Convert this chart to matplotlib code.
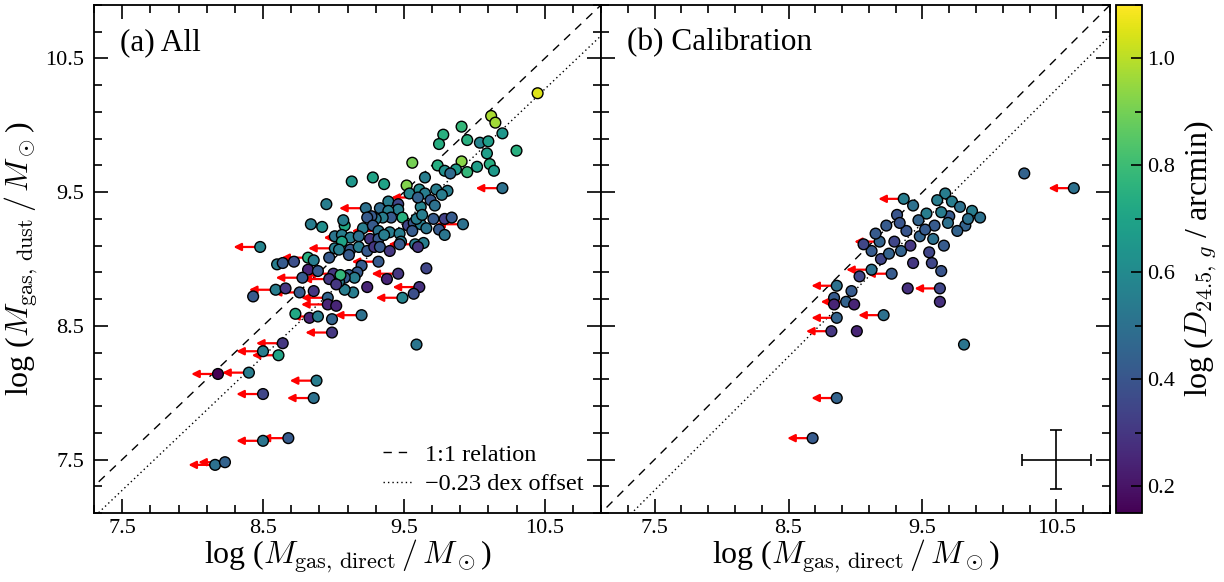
import numpy as np
import matplotlib
matplotlib.use("Agg")
import matplotlib.pyplot as plt
from matplotlib.ticker import FixedLocator, FormatStrFormatter
from matplotlib.colors import Normalize
from matplotlib.cm import ScalarMappable
from matplotlib.lines import Line2D

plt.rcParams['font.family'] = ['Liberation Serif', 'DejaVu Serif']
plt.rcParams['mathtext.fontset'] = 'cm'

# ---------------- Panel (a): all galaxies ----------------
a_x = [10.45, 10.12, 10.15, 10.20, 9.91, 9.78, 9.75, 9.95, 10.04, 10.10,
       10.30, 10.09, 9.56, 9.91, 9.74, 10.11, 9.79, 9.87, 9.95, 10.02,
       10.14, 9.83, 9.65, 9.13, 9.28, 9.36, 9.52, 10.20, 9.54, 9.61,
       9.65, 9.73, 9.81, 9.77, 9.69, 9.72, 9.62, 8.95, 8.84, 8.92,
       9.08, 9.07, 9.23, 9.33, 9.39, 9.46, 9.46, 9.39, 9.49, 9.41,
       9.35, 9.30, 9.27, 9.24, 9.21, 9.28, 9.32, 9.40, 9.47, 9.53,
       9.57, 9.62, 9.66, 9.56, 9.59, 9.63, 9.71, 9.75, 9.79, 9.79,
       9.84, 9.92, 9.01, 9.06, 9.12, 9.18, 9.26, 9.32, 9.36, 9.48,
       9.47, 9.58, 9.64, 9.60, 8.48, 9.06, 9.01, 9.04, 9.12, 9.18,
       9.24, 9.29, 9.33, 9.40, 9.11, 8.97, 8.82, 8.86, 8.60, 8.64,
       8.72, 8.82, 8.89, 9.20, 9.32, 8.43, 8.59, 8.66, 8.76, 8.78,
       8.73, 8.83, 8.64, 8.50, 8.61, 8.18, 8.40, 8.50, 8.88, 8.86,
       8.50, 8.68, 8.16, 8.23, 9.49, 9.46, 9.38, 9.61, 9.57, 9.66,
       9.59, 9.20, 8.99, 8.89, 8.99, 8.96, 8.96, 9.02, 9.24, 9.14,
       9.08, 8.86, 9.17, 9.11, 9.15, 9.08, 9.04, 9.00, 9.05, 8.97,
       9.02, 9.60]
a_y = [10.24, 10.07, 10.02, 9.94, 9.99, 9.93, 9.86, 9.89, 9.87, 9.88,
       9.81, 9.79, 9.72, 9.73, 9.70, 9.71, 9.66, 9.67, 9.65, 9.69,
       9.66, 9.64, 9.61, 9.58, 9.61, 9.56, 9.55, 9.53, 9.49, 9.52,
       9.49, 9.52, 9.51, 9.48, 9.44, 9.40, 9.39, 9.41, 9.26, 9.24,
       9.25, 9.29, 9.38, 9.38, 9.43, 9.41, 9.37, 9.36, 9.31, 9.31,
       9.31, 9.30, 9.32, 9.31, 9.23, 9.25, 9.21, 9.20, 9.19, 9.25,
       9.27, 9.26, 9.23, 9.21, 9.30, 9.33, 9.30, 9.22, 9.18, 9.30,
       9.31, 9.26, 9.17, 9.18, 9.16, 9.17, 9.15, 9.15, 9.18, 9.13,
       9.11, 9.11, 9.12, 9.09, 9.09, 9.13, 9.08, 9.07, 9.07, 9.09,
       9.06, 9.09, 9.09, 9.06, 9.03, 9.01, 9.01, 8.99, 8.96, 8.97,
       8.98, 8.92, 8.91, 8.95, 8.98, 8.72, 8.77, 8.78, 8.75, 8.86,
       8.59, 8.56, 8.37, 8.31, 8.28, 8.14, 8.15, 7.99, 8.09, 7.96,
       7.64, 7.66, 7.46, 7.48, 8.71, 8.89, 8.85, 8.79, 8.74, 8.93,
       8.36, 8.58, 8.55, 8.57, 8.45, 8.71, 8.66, 8.65, 8.79, 8.75,
       8.77, 8.76, 8.90, 8.88, 8.86, 8.86, 8.83, 8.89, 8.88, 8.85,
       8.81, 9.46]
a_c = [1.05, 0.98, 0.97, 0.65, 0.78, 0.75, 0.74, 0.75, 0.58, 0.68,
       0.75, 0.68, 0.90, 0.93, 0.74, 0.74, 0.62, 0.66, 0.78, 0.68,
       0.66, 0.48, 0.55, 0.65, 0.70, 0.70, 0.92, 0.50, 0.58, 0.60,
       0.55, 0.55, 0.55, 0.55, 0.42, 0.50, 0.58, 0.55, 0.55, 0.62,
       0.72, 0.55, 0.50, 0.48, 0.55, 0.35, 0.55, 0.55, 0.75, 0.42,
       0.55, 0.52, 0.42, 0.42, 0.55, 0.42, 0.52, 0.55, 0.55, 0.35,
       0.42, 0.55, 0.52, 0.42, 0.55, 0.55, 0.42, 0.42, 0.52, 0.33,
       0.42, 0.50, 0.52, 0.55, 0.55, 0.50, 0.30, 0.42, 0.55, 0.55,
       0.42, 0.55, 0.55, 0.30, 0.58, 0.70, 0.55, 0.55, 0.42, 0.55,
       0.42, 0.30, 0.42, 0.30, 0.42, 0.42, 0.75, 0.55, 0.55, 0.42,
       0.38, 0.25, 0.42, 0.42, 0.42, 0.42, 0.55, 0.30, 0.42, 0.42,
       0.72, 0.25, 0.30, 0.55, 0.70, 0.15, 0.55, 0.35, 0.55, 0.50,
       0.52, 0.42, 0.50, 0.45, 0.58, 0.30, 0.25, 0.28, 0.38, 0.35,
       0.52, 0.50, 0.45, 0.55, 0.30, 0.45, 0.25, 0.25, 0.25, 0.55,
       0.55, 0.30, 0.42, 0.42, 0.55, 0.42, 0.55, 0.30, 0.78, 0.30,
       0.30, 0.45]
a_ul = [0, 0, 0, 0, 0, 0, 0, 0, 0, 0,
        0, 0, 0, 0, 0, 0, 0, 0, 0, 0,
        0, 0, 0, 0, 0, 0, 0, 1, 0, 0,
        0, 0, 0, 0, 0, 0, 0, 0, 0, 0,
        0, 0, 1, 0, 0, 0, 0, 0, 0, 0,
        0, 0, 0, 0, 0, 0, 1, 0, 0, 0,
        0, 0, 0, 0, 0, 0, 0, 0, 0, 0,
        0, 1, 0, 0, 1, 0, 0, 0, 0, 0,
        0, 1, 0, 0, 1, 0, 1, 0, 0, 0,
        0, 0, 0, 0, 0, 0, 1, 0, 0, 0,
        0, 0, 0, 0, 1, 0, 1, 0, 1, 1,
        0, 0, 1, 1, 1, 1, 1, 1, 1, 1,
        1, 1, 1, 1, 1, 1, 0, 1, 0, 0,
        0, 1, 0, 1, 1, 1, 1, 0, 0, 0,
        0, 0, 0, 0, 0, 0, 0, 1, 0, 1,
        0, 1]

# ---------------- Panel (b): calibration sample ----------------
b_x = [10.63, 10.26, 9.67, 9.72, 9.78, 9.87, 9.93, 9.82, 9.70, 9.76,
       9.59, 9.53, 9.43, 9.36, 9.31, 9.23, 9.38, 9.48, 9.29, 9.18,
       9.12, 9.19, 9.34, 9.43, 9.57, 9.64, 9.12, 9.27, 9.03, 8.97,
       8.86, 8.93, 8.84, 8.84, 8.99, 9.01, 8.86, 9.21, 9.39, 9.63,
       9.63, 9.81, 8.86, 8.68, 8.82, 9.47, 9.52, 9.58, 9.64, 9.69,
       9.84, 9.55, 9.41, 9.15, 9.06, 9.25, 9.66, 9.61, 9.33]
b_y = [9.53, 9.64, 9.49, 9.43, 9.39, 9.36, 9.31, 9.25, 9.32, 9.21,
       9.25, 9.34, 9.40, 9.45, 9.33, 9.25, 9.21, 9.17, 9.13, 9.13,
       9.06, 9.00, 9.06, 8.97, 8.97, 8.91, 8.92, 8.89, 8.87, 8.76,
       8.80, 8.68, 8.71, 8.66, 8.66, 8.46, 8.56, 8.58, 8.78, 8.78,
       8.68, 8.36, 7.96, 7.66, 8.46, 9.29, 9.22, 9.15, 9.35, 9.27,
       9.30, 9.05, 9.10, 9.19, 9.11, 9.04, 9.10, 9.44, 9.27]
b_c = [0.50, 0.45, 0.55, 0.55, 0.50, 0.55, 0.50, 0.45, 0.42, 0.45,
       0.42, 0.55, 0.50, 0.55, 0.40, 0.42, 0.40, 0.45, 0.35, 0.45,
       0.42, 0.35, 0.45, 0.30, 0.35, 0.40, 0.50, 0.42, 0.35, 0.42,
       0.50, 0.45, 0.42, 0.25, 0.25, 0.25, 0.45, 0.50, 0.28, 0.35,
       0.28, 0.52, 0.45, 0.42, 0.30, 0.45, 0.42, 0.50, 0.55, 0.50,
       0.50, 0.35, 0.30, 0.42, 0.35, 0.45, 0.42, 0.55, 0.40]
b_ul = [1, 0, 0, 0, 0, 0, 0, 0, 0, 0,
        0, 0, 0, 1, 0, 0, 0, 0, 0, 1,
        0, 0, 0, 0, 0, 0, 1, 1, 0, 0,
        1, 1, 0, 0, 0, 0, 1, 1, 0, 1,
        0, 0, 1, 1, 1, 0, 0, 0, 0, 0,
        0, 0, 0, 0, 0, 0, 0, 0, 0]

offset = -0.23
arrow_len = 0.19
err_x, err_y = 0.26, 0.22
vmin, vmax = 0.15, 1.10

fig = plt.figure(figsize=(12.24, 5.82), dpi=100)
axa = fig.add_axes([94/1224, 69/582, 507/1224, 508/582])
axb = fig.add_axes([601/1224, 69/582, 509/1224, 508/582])
cax = fig.add_axes([1116/1224, 69/582, 26/1224, 508/582])

cmap = plt.get_cmap('viridis')
norm = Normalize(vmin=vmin, vmax=vmax)
DASH = (0, (6, 5))
DOT = (0, (1, 2.2))


def draw(ax, xs, ys, cs, uls, xlim):
    xs = np.asarray(xs); ys = np.asarray(ys); cs = np.asarray(cs); uls = np.asarray(uls, bool)
    for x, y in zip(xs[uls], ys[uls]):
        ax.annotate('', xy=(x - arrow_len, y), xytext=(x, y),
                    arrowprops=dict(arrowstyle='-|>', color='red', lw=1.6,
                                    mutation_scale=11, shrinkA=0, shrinkB=0),
                    zorder=2)
    ax.scatter(xs, ys, c=cs, cmap=cmap, norm=norm, s=60, edgecolors='black',
               linewidths=1.0, zorder=3)
    line = np.array([6.5, 11.5])
    ax.plot(line, line, color='black', lw=1.0, ls=DASH, zorder=1)
    ax.plot(line, line + offset, color='black', lw=1.0, ls=DOT, zorder=1)
    ax.set_xlim(*xlim)
    ax.set_ylim(7.1, 10.9)
    major = [7.5, 8.5, 9.5, 10.5]
    minor = list(np.round(np.arange(7.1, 10.95, 0.2), 2))
    for axis in (ax.xaxis, ax.yaxis):
        axis.set_major_locator(FixedLocator(major))
        axis.set_minor_locator(FixedLocator(minor))
        axis.set_major_formatter(FormatStrFormatter('%.1f'))
    ax.tick_params(which='both', direction='in', top=True, right=True,
                   labelsize=16, width=1.2)
    ax.tick_params(which='major', length=10, pad=4)
    ax.tick_params(which='minor', length=6)
    for s in ax.spines.values():
        s.set_linewidth(1.3)


draw(axa, a_x, a_y, a_c, a_ul, (7.3, 10.9))
draw(axb, b_x, b_y, b_c, b_ul, (7.1, 10.9))
axb.tick_params(labelleft=False)
axa.tick_params(axis='y', which='major', pad=7)

xlab = r'log ($M_{\rm gas,\,direct}\,/\,M_\odot$)'
axa.set_xlabel(xlab, fontsize=23, labelpad=0)
axb.set_xlabel(xlab, fontsize=23, labelpad=0)
axa.set_ylabel(r'log ($M_{\rm gas,\,dust}\,/\,M_\odot$)', fontsize=23, labelpad=4)

axa.text(0.051, 0.955, '(a) All', transform=axa.transAxes, fontsize=22.5,
         va='top', ha='left')
axb.text(0.052, 0.955, '(b) Calibration', transform=axb.transAxes, fontsize=22.5,
         va='top', ha='left')

handles = [Line2D([], [], color='black', lw=1.0, ls=DASH),
           Line2D([], [], color='black', lw=1.0, ls=DOT)]
axa.legend(handles, ['1:1 relation', '\u22120.23 dex offset'], loc='lower right',
           bbox_to_anchor=(0.965, 0.035), frameon=False, fontsize=17.5,
           handlelength=1.2, handletextpad=0.5, borderpad=0, borderaxespad=0,
           labelspacing=0.3)

axb.errorbar([10.5], [7.5], xerr=[err_x], yerr=[err_y], color='black', lw=1.2,
             capsize=4, capthick=1.2, fmt='none', zorder=4)

sm = ScalarMappable(norm=norm, cmap=cmap)
cb = fig.colorbar(sm, cax=cax)
cb.set_ticks([0.2, 0.4, 0.6, 0.8, 1.0])
cb.ax.yaxis.set_minor_locator(FixedLocator(np.round(np.arange(0.2, 1.11, 0.1), 2)))
cb.ax.tick_params(which='both', direction='in', labelsize=16, width=1.2)
cb.ax.tick_params(which='major', length=8)
cb.ax.tick_params(which='minor', length=5)
cb.outline.set_linewidth(1.3)
cb.set_label(r'log ($D_{24.5,\,g}$ / arcmin)', fontsize=23, labelpad=6)

fig.savefig('out.png', dpi=100)
